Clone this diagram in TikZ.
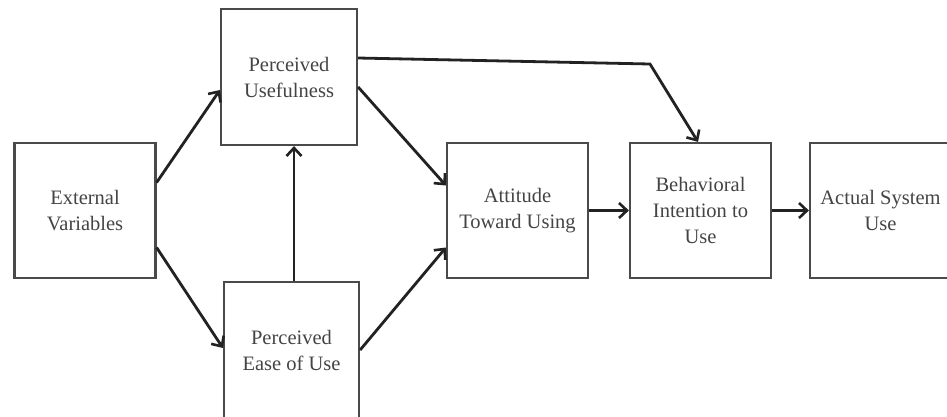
\documentclass[tikz,border=0pt]{standalone}
\usepackage{fontspec}
\setmainfont{Liberation Serif}
\usetikzlibrary{arrows.meta}
\definecolor{boxline}{HTML}{4A4A4A}
\definecolor{arrline}{HTML}{222222}
\definecolor{txt}{HTML}{444444}
\tikzset{
  block/.style={draw=boxline, line width=2.2pt, fill=white, minimum width=137pt,
    minimum height=133pt, align=center, text=txt,
    font=\fontsize{20.5}{26}\selectfont, inner sep=0pt},
  arr/.style={draw=arrline, line width=2.8pt, line join=miter,
    -{Straight Barb[length=8pt,width=15pt,line width=2.6pt]}}
}
\begin{document}
\begin{tikzpicture}[x=1pt,y=-1pt]
  \useasboundingbox (0,0) rectangle (947,416);
  \fill[white] (0,0) rectangle (947,416);
  \clip (0,0) rectangle (947,416);

  % model constructs
  \node[block, minimum width=141pt, minimum height=135pt] (ev)   at (85,210.5)   {External\\Variables};
  \node[block, minimum width=136pt, minimum height=136pt] (pu)   at (289,77)     {Perceived\\Usefulness};
  \node[block, minimum width=135pt, minimum height=136pt] (peou) at (291.5,350)  {Perceived\\Ease of Use};
  \node[block, minimum width=141pt, minimum height=135pt] (att)  at (517.5,210.5) {Attitude\\Toward Using};
  \node[block, minimum width=141pt, minimum height=135pt] (bi)   at (700.5,210.5) {Behavioral\\Intention to\\Use};
  \node[block, minimum width=141pt, minimum height=135pt] (asu)  at (880.5,210.5)  {Actual System\\Use};

  % relationships
  \draw[arr] ([yshift=28pt]ev.east) -- ([yshift=-13pt]pu.west);
  \draw[arr] ([yshift=-37pt]ev.east) -- ([yshift=2pt]peou.west);
  \draw[arr] ([xshift=2.5pt]peou.north) -- ([xshift=2.5pt]peou.north |- pu.south);
  \draw[arr] ([yshift=-10pt]pu.east) -- ([yshift=25pt]att.west);
  \draw[arr] (peou.east) -- ([yshift=-37pt]att.west);
  \coordinate (bend) at (650,64);
  \draw[arr] ([yshift=19pt]pu.east) -- (bend) -- ([xshift=-2.5pt]bi.north);
  \draw[arr] (att.east) -- (bi.west);
  \draw[arr] (bi.east) -- (asu.west);
\end{tikzpicture}
\end{document}
